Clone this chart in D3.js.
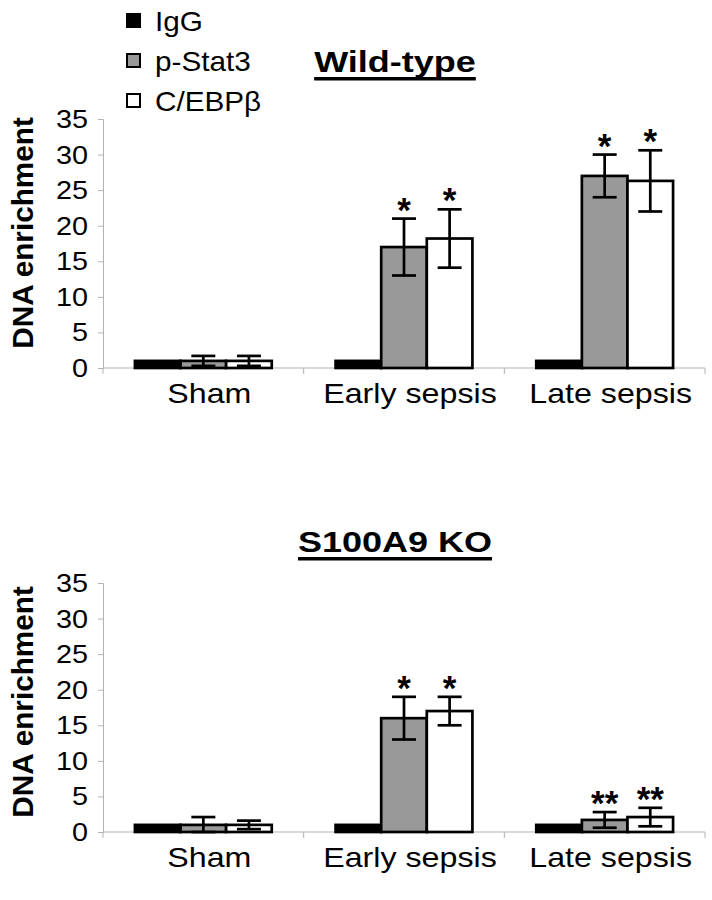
<!DOCTYPE html>
<html>
<head>
<meta charset="utf-8">
<script src="https://cdn.jsdelivr.net/npm/d3@7"></script>
<style>
  html, body { margin: 0; padding: 0; background: #fff; }
  svg { display: block; }
  text { font-family: "Liberation Sans", Arial, sans-serif; fill: #000; }
</style>
</head>
<body>
<svg id="chart" width="712" height="900"></svg>
<script>
// ---- data ----
const categories = ["Sham", "Early sepsis", "Late sepsis"];
const seriesNames = ["IgG", "p-Stat3", "C/EBPβ"];
const seriesFill = ["#000000", "#999999", "#ffffff"];
const yTicks = [0, 5, 10, 15, 20, 25, 30, 35];

const wtIgG = [1, 1, 1];
const wtStat3 = [1, 17, 27];
const wtCebp = [1, 18.2, 26.3];
const wtStat3Err = [0.7, 4, 3];
const wtCebpErr = [0.7, 4.1, 4.3];
const wtStat3Sig = ["", "*", "*"];
const wtCebpSig = ["", "*", "*"];

const koIgG = [1, 1, 1];
const koStat3 = [1, 16, 1.7];
const koCebp = [1, 17, 2.1];
const koStat3Err = [1.1, 3, 1.1];
const koCebpErr = [0.6, 2, 1.3];
const koStat3Sig = ["", "*", "**"];
const koCebpSig = ["", "*", "**"];

const panels = [
  { title: "Wild-type", values: [wtIgG, wtStat3, wtCebp], errs: [null, wtStat3Err, wtCebpErr], sig: [null, wtStat3Sig, wtCebpSig],
    y0: 368, y35: 119, titleY: 72, labelY: 233 },
  { title: "S100A9 KO", values: [koIgG, koStat3, koCebp], errs: [null, koStat3Err, koCebpErr], sig: [null, koStat3Sig, koCebpSig],
    y0: 832, y35: 583, titleY: 552, labelY: 702 }
];

const svg = d3.select("#chart");
const SX = 1.13; // horizontal stretch of the original typography
const axisColor = "#b3b3b3";

function stretchedText(parent, x, y, str, opts) {
  const g = parent.append("g").attr("transform", `translate(${x},${y}) scale(${opts.sx || SX},1)`);
  const t = g.append("text")
    .attr("text-anchor", opts.anchor || "start")
    .style("font-size", opts.size + "px")
    .style("font-weight", opts.weight || "normal")
    .text(str);
  return { g, t };
}

const xLeft = 103, xRight = 705;
const x0 = d3.scaleBand().domain(categories).range([xLeft, xRight]).padding(0);
const x1 = d3.scaleBand().domain(seriesNames).range([0, x0.bandwidth()]).paddingInner(0).paddingOuter(0.7);

panels.forEach(p => {
  const y = d3.scaleLinear().domain([0, 35]).range([p.y0, p.y35]);
  const g = svg.append("g");

  // y axis
  const yAxis = d3.axisLeft(y).tickValues(yTicks).tickSize(5).tickPadding(10);
  const ya = g.append("g").attr("transform", `translate(${xLeft},0)`).call(yAxis);
  ya.select(".domain").attr("stroke", axisColor).attr("stroke-width", 1);
  ya.selectAll(".tick line").attr("stroke", axisColor);
  ya.selectAll(".tick text").remove();
  yTicks.forEach(v => {
    stretchedText(g, xLeft - 15, y(v) + 9, String(v), { size: 25.5, anchor: "end" });
  });

  // x axis
  const xa = g.append("g").attr("transform", `translate(0,${p.y0})`);
  xa.append("line").attr("x1", xLeft).attr("x2", xRight).attr("y1", 0).attr("y2", 0)
    .attr("stroke", axisColor).attr("stroke-width", 1);
  const bounds = categories.map(c => x0(c)).concat([xRight]);
  xa.selectAll("line.tk").data(bounds).join("line").attr("class", "tk")
    .attr("x1", d => d).attr("x2", d => d).attr("y1", 0).attr("y2", 6)
    .attr("stroke", axisColor);
  categories.forEach(c => {
    stretchedText(g, x0(c) + x0.bandwidth() / 2 + 6, p.y0 + 35, c, { size: 28.5, anchor: "middle" });
  });

  // bars
  seriesNames.forEach((s, si) => {
    g.selectAll(null).data(categories).join("rect")
      .attr("x", c => x0(c) + x1(s))
      .attr("y", (c, i) => y(p.values[si][i]))
      .attr("width", x1.bandwidth())
      .attr("height", (c, i) => y(0) - y(p.values[si][i]))
      .attr("fill", seriesFill[si])
      .attr("stroke", "#000").attr("stroke-width", 2.7);
  });

  // error bars + significance marks
  seriesNames.forEach((s, si) => {
    if (!p.errs[si]) return;
    categories.forEach((c, i) => {
      const cx = x0(c) + x1(s) + x1.bandwidth() / 2;
      const v = p.values[si][i], e = p.errs[si][i];
      const yt = y(v + e), yb = y(Math.max(0, v - e));
      g.append("line").attr("x1", cx).attr("x2", cx).attr("y1", yt).attr("y2", yb)
        .attr("stroke", "#000").attr("stroke-width", 2.7);
      [yt, yb].forEach(yy => g.append("line").attr("x1", cx - 12).attr("x2", cx + 12)
        .attr("y1", yy).attr("y2", yy).attr("stroke", "#000").attr("stroke-width", 2.7));
      const mark = p.sig[si][i];
      if (mark) {
        g.append("text").attr("x", cx).attr("y", yt + 3)
          .attr("text-anchor", "middle")
          .style("font-size", "35px").style("font-weight", "bold")
          .text(mark);
      }
    });
  });

  // title
  const tt = stretchedText(g, 395, p.titleY, p.title, { size: 30, anchor: "middle", weight: "bold", sx: 1.2 });
  const bb = tt.t.node().getBBox();
  tt.g.append("rect").attr("x", bb.x).attr("y", 5).attr("width", bb.width).attr("height", 3.5).attr("fill", "#000");

  // y label
  const yl = g.append("g").attr("transform", `translate(33,${p.labelY}) rotate(-90) scale(0.99,1)`);
  yl.append("text").attr("text-anchor", "middle")
    .style("font-size", "30px").style("font-weight", "bold")
    .text("DNA enrichment");
});

// legend
const legY = [21, 61, 101];
seriesNames.forEach((s, i) => {
  svg.append("rect").attr("x", 127).attr("y", legY[i] - 7).attr("width", 13).attr("height", 13)
    .attr("fill", seriesFill[i]).attr("stroke", "#000").attr("stroke-width", 2);
  stretchedText(svg, 155, legY[i] + 10, s, { size: 27, anchor: "start", sx: 1.1 });
});
</script>
</body>
</html>
